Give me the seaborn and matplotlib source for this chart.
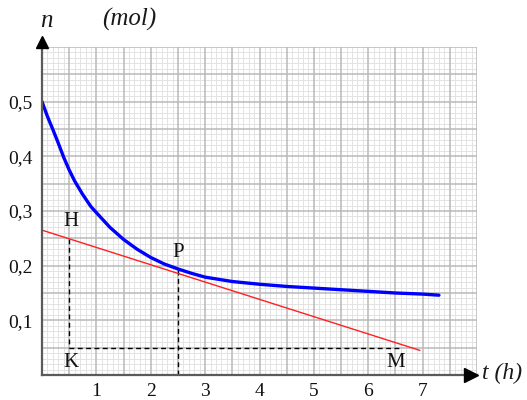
import numpy as np
import pandas as pd
import matplotlib
matplotlib.use("Agg")
import matplotlib.pyplot as plt
import matplotlib.transforms as mtransforms
import seaborn as sns

# ---- data ----
t_curve = [0.0, 0.1, 0.2, 0.3, 0.4, 0.5, 0.6, 0.75, 0.9, 1.0, 1.25, 1.5,
           1.75, 2.0, 2.25, 2.5, 2.75, 3.0, 3.5, 4.0, 4.5, 5.0, 5.5, 6.0,
           6.5, 7.0, 7.3]
n_curve = [0.500, 0.473, 0.449, 0.424, 0.398, 0.375, 0.355, 0.330, 0.308,
           0.297, 0.270, 0.248, 0.230, 0.215, 0.203, 0.194, 0.186, 0.179,
           0.171, 0.166, 0.162, 0.159, 0.156, 0.153, 0.150, 0.148, 0.146]
t_tangent = [0.0, 6.95]
n_tangent = [0.265, 0.045]
point_names = ["H", "P", "K", "M"]
point_t = [0.5, 2.5, 0.5, 6.6]
point_n = [0.249, 0.194, 0.05, 0.05]
x_ticks = [1, 2, 3, 4, 5, 6, 7]
x_tick_labels = ["1", "2", "3", "4", "5", "6", "7"]
y_ticks = [0.1, 0.2, 0.3, 0.4, 0.5]
y_tick_labels = ["0,1", "0,2", "0,3", "0,4", "0,5"]
x_label = "t (h)"
y_label = "n"
y_unit = "(mol)"

sns.set_style("white")
plt.rcParams["font.family"] = ["Liberation Serif", "DejaVu Serif"]

W, H = 527, 400
fig = plt.figure(figsize=(W / 100, H / 100), dpi=100)
ax = fig.add_axes([42 / W, 25 / H, 435 / W, 328 / H])
ax.set_xlim(0, 8)
ax.set_ylim(0, 0.6)

# graph-paper grid
for i, v in enumerate(np.arange(0, 8.0001, 0.1)):
    major = i % 5 == 0
    ax.axvline(v, color="#b9b9b9" if major else "#e3e3e3",
               lw=1.1 if major else 0.7, zorder=0.5 if major else 0.2)
for i, v in enumerate(np.arange(0, 0.60001, 0.01)):
    major = i % 5 == 0
    ax.axhline(v, color="#b9b9b9" if major else "#e3e3e3",
               lw=1.1 if major else 0.7, zorder=0.5 if major else 0.2)

curve_df = pd.DataFrame({"t": t_curve, "n": n_curve})
tan_df = pd.DataFrame({"t": t_tangent, "n": n_tangent})
sns.lineplot(data=curve_df, x="t", y="n", color="#0000ff", lw=2.4,
             sort=False, estimator=None, ax=ax, zorder=4,
             solid_joinstyle="round", solid_capstyle="round")
sns.lineplot(data=tan_df, x="t", y="n", color="#ff2020", lw=1.0,
             sort=False, estimator=None, ax=ax, zorder=3)

# construction lines
tH, nH = point_t[0], point_n[0]
tP, nP = point_t[1], point_n[1]
tK, nK = point_t[2], point_n[2]
tM, nM = point_t[3], point_n[3]
dash = dict(color="black", lw=1.0, ls=(0, (3.5, 2.5)), zorder=2.5)
ax.plot([tH, tK], [nH, nK], **dash)
ax.plot([tK, tM], [nK, nM], **dash)
ax.plot([tP, tP], [0, nP], **dash)

offsets = {"H": (1.3, 12.3), "P": (0.4, 11.5), "K": (1.3, -10.4), "M": (-3.4, -10.4)}
for name, tv, nv in zip(point_names, point_t, point_n):
    ax.annotate(name, (tv, nv), xytext=offsets[name], textcoords="offset points",
                ha="center", va="center", fontsize=15, color="#111111")

ax.set_xticks(x_ticks, x_tick_labels)
ax.set_yticks(y_ticks, y_tick_labels)
ax.tick_params(axis="x", length=3, width=1, color="#9a9a9a", pad=2.5,
               labelsize=14, labelcolor="#111111")
ax.tick_params(axis="y", length=0, pad=6.5, labelsize=14, labelcolor="#111111")
ax.set_xlabel("")
ax.set_ylabel("")
ax.grid(False)

for s in ["top", "right"]:
    ax.spines[s].set_visible(False)
for s in ["left", "bottom"]:
    ax.spines[s].set_color("#5a5a5a")
    ax.spines[s].set_linewidth(1.6)
    ax.spines[s].set_zorder(5)

# arrow heads
tr_up = mtransforms.offset_copy(ax.transAxes, fig=fig, x=0, y=5, units="dots")
ax.plot([0], [1], marker="^", ms=9, color="black", transform=tr_up,
        clip_on=False, zorder=6)
tr_right = mtransforms.offset_copy(ax.transAxes, fig=fig, x=-6, y=0, units="dots")
ax.plot([1], [0], marker=">", ms=10, color="black", transform=tr_right,
        clip_on=False, zorder=6)

# axis labels
fig.text(46 / W, 1 - 21 / H, y_label, fontsize=18, style="italic",
         ha="center", va="center", color="#1a1a1a")
fig.text(129 / W, 1 - 19 / H, y_unit, fontsize=18, style="italic",
         ha="center", va="center", color="#1a1a1a")
fig.text(482 / W, 1 - 373 / H, x_label, fontsize=17, style="italic",
         ha="left", va="center", color="#1a1a1a")

fig.savefig("out.png", dpi=100)
